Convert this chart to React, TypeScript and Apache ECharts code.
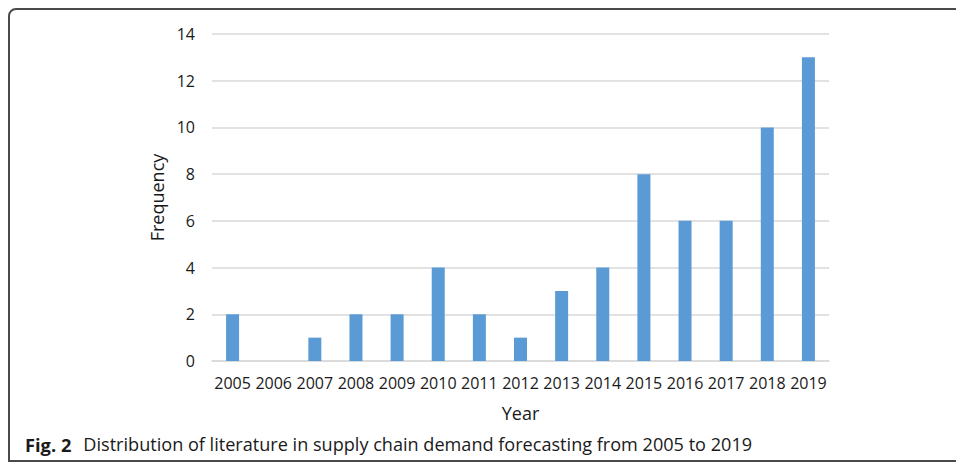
import React, { useEffect, useRef } from "react";
import * as echarts from "echarts";

const years = ["2005", "2006", "2007", "2008", "2009", "2010", "2011", "2012", "2013", "2014", "2015", "2016", "2017", "2018", "2019"];
const frequency = [2, 0, 1, 2, 2, 4, 2, 1, 3, 4, 8, 6, 6, 10, 13];
const yTicks = { min: 0, max: 14, interval: 2 };
const captionBold = "Fig. 2";
const captionText = "Distribution of literature in supply chain demand forecasting from 2005 to 2019";

const FONT = "'Open Sans', 'Noto Sans', sans-serif";

export default function App() {
  const ref = useRef<HTMLDivElement>(null);
  useEffect(() => {
    if (!ref.current) return;
    const chart = echarts.init(ref.current, null, { renderer: "svg" });
    chart.setOption({
      animation: false,
      backgroundColor: "#ffffff",
      grid: { left: 212, right: 127, top: 34, bottom: 102, containLabel: false },
      xAxis: {
        type: "category",
        data: years,
        name: "Year",
        nameLocation: "middle",
        nameGap: 43,
        nameTextStyle: { fontFamily: FONT, fontSize: 18, color: "#1a1a1a" },
        axisLine: { show: true, lineStyle: { color: "#d9d9d9", width: 1.5 } },
        axisTick: { show: false },
        axisLabel: { fontFamily: FONT, fontSize: 16, color: "#1a1a1a", margin: 14, interval: 0 },
      },
      yAxis: {
        type: "value",
        min: yTicks.min,
        max: yTicks.max,
        interval: yTicks.interval,
        name: "Frequency",
        nameLocation: "middle",
        nameGap: 36,
        nameRotate: 90,
        nameTextStyle: { fontFamily: FONT, fontSize: 18, color: "#1a1a1a" },
        axisLine: { show: false },
        axisTick: { show: false },
        axisLabel: { fontFamily: FONT, fontSize: 16, color: "#1a1a1a", margin: 17 },
        splitLine: { show: true, lineStyle: { color: "#d9d9d9", width: 1.5 } },
      },
      series: [
        {
          type: "bar",
          data: frequency,
          barWidth: 13,
          itemStyle: { color: "#5b9bd5" },
        },
      ],
      graphic: [
        {
          type: "rect",
          shape: { x: 9, y: 9, width: 1000, height: 452, r: [7, 0, 0, 0] },
          style: { fill: "none", stroke: "#4a4a4a", lineWidth: 2 },
          silent: true,
        },
        {
          type: "text",
          left: 25,
          top: 435,
          style: {
            text: `{b|${captionBold}}{n|${captionText}}`,
            rich: {
              b: { fontFamily: FONT, fontSize: 18.3, fontWeight: "bold", fill: "#1a1a1a", padding: [0, 12, 0, 0] },
              n: { fontFamily: FONT, fontSize: 18.1, fill: "#1a1a1a" },
            },
          },
        },
      ],
    });
    return () => chart.dispose();
  }, []);
  return (
    <div
      ref={ref}
      style={{ position: "fixed", left: 0, top: 0, width: 956, height: 463 }}
    />
  );
}
